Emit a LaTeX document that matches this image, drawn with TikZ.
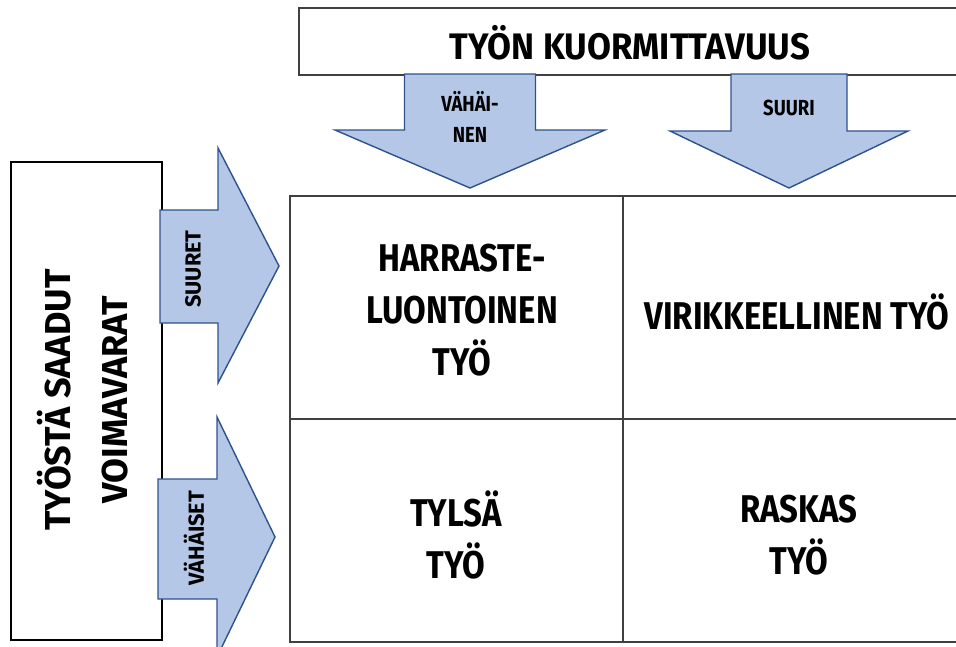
\documentclass[tikz,border=0pt]{standalone}
\usepackage{fontspec}
\setmainfont{Fira Sans}[FakeStretch=0.85]
\newfontfamily\widefont{Fira Sans}
\newfontfamily\headfont{Fira Sans}[FakeStretch=0.94]
\definecolor{arrowfill}{RGB}{180,199,231}
\definecolor{arrowline}{RGB}{47,82,143}
\definecolor{gridline}{RGB}{64,64,64}
\begin{document}
\begin{tikzpicture}[x=0.02cm, y=-0.02cm,
    bigarrow/.style={fill=arrowfill, draw=arrowline, line width=0.8pt, line join=miter},
    boxline/.style={draw=gridline, line width=0.8pt},
    celltext/.style={align=center, font=\bfseries\fontsize{22}{29.6}\selectfont},
    sidetext/.style={align=center, font=\widefont\bfseries\fontsize{20.5}{32.4}\selectfont},
    arrowtext/.style={align=center, font=\bfseries\fontsize{12.4}{18}\selectfont},
    turnedtext/.style={rotate=90, font=\widefont\bfseries\fontsize{12.4}{14}\selectfont}]
    \useasboundingbox (0,0) rectangle (956,646);

    % Draw the heading box and the side box
    \draw[boxline] (299,8) rectangle (975,75);
    \draw[boxline, draw=black] (11,162) rectangle (162,640);

    % Draw the four cells
    \draw[boxline] (290,196) rectangle (975,642);
    \draw[boxline] (623,196) -- (623,642);
    \draw[boxline] (290,419) -- (975,419);

    % Draw the two arrows pointing down
    \foreach \cx/\sh/\hh/\sy in {470/65.5/135/130, 789/58/119/131} {
    \draw[bigarrow] (\cx-\sh,74) -- (\cx+\sh,74) -- (\cx+\sh,\sy) -- (\cx+\hh,\sy)
        -- (\cx,188) -- (\cx-\hh,\sy) -- (\cx-\sh,\sy) -- cycle;
    }

    % Draw the two arrows pointing right
    \draw[bigarrow] (160,210) -- (218,210) -- (218,148) -- (279,266)
        -- (218,383) -- (218,323) -- (160,323) -- cycle;
    \draw[bigarrow] (158,479) -- (217,479) -- (217,417) -- (275,537)
        -- (217,657) -- (217,599) -- (158,599) -- cycle;

    % Labels
    \node[font=\headfont\bfseries\fontsize{21}{25}\selectfont] (kuorm) at (630,43) {TYÖN KUORMITTAVUUS};
    \node[sidetext, rotate=90] (voimavarat) at (83,400) {TYÖSTÄ SAADUT\\VOIMAVARAT};
    \node[arrowtext] (vahainen) at (470,117) {VÄHÄI-\\NEN};
    \node[arrowtext] (suuri) at (789,108) {SUURI};
    \node[turnedtext] (suuret) at (193,269) {SUURET};
    \node[turnedtext] (vahaiset) at (194,538) {VÄHÄISET};

    \node[celltext] (harraste) at (462,310) {HARRASTE-\\LUONTOINEN\\TYÖ};
    \node[celltext] (virikkeellinen) at (797,312) {VIRIKKEELLINEN TYÖ};
    \node[celltext] (tylsa) at (456,535) {TYLSÄ\\TYÖ};
    \node[celltext] (raskas) at (799,535) {RASKAS\\TYÖ};
\end{tikzpicture}
\end{document}
